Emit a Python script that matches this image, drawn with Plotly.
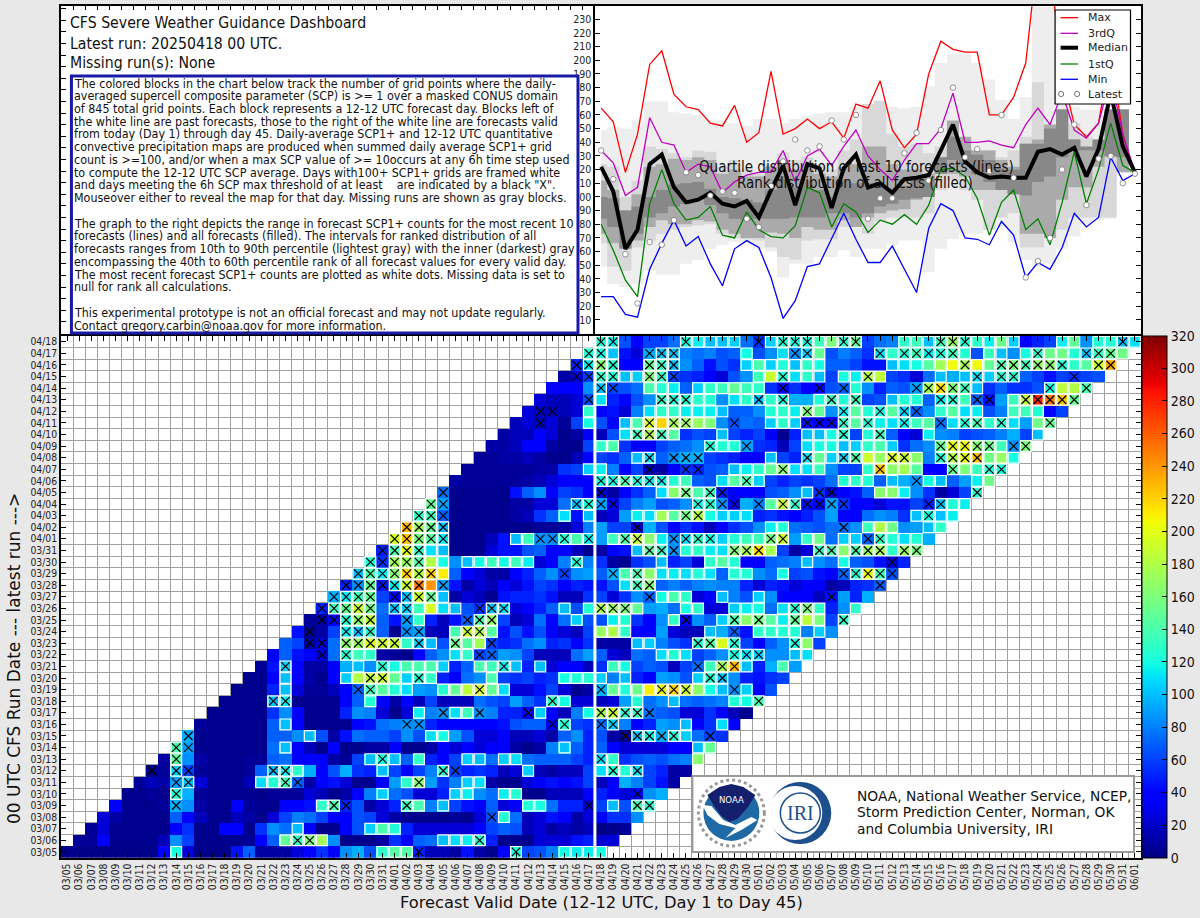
import numpy as np
import pandas as pd
import plotly.graph_objects as go

# valid dates (03/05 .. 06/01) and run dates (03/05 .. 04/18)
valid_dates = [d.strftime('%m/%d') for d in pd.date_range('2025-03-05', '2025-06-01')]
run_dates = valid_dates[:45]

# SCP1+ counts, one list per run, days 1-45 from the run date
run_0305 = [3,3,3,3,3,3,3,3,35,120,24,3,3,3,45,70,10,10,10,24,40,55,40,85,95,65,130,145,145,50,16,16,10,45,10,4,35,120,60,65,80,120,115,115,120]
run_0306 = [7,7,35,4,4,4,4,16,85,60,4,4,4,4,7,40,70,150,130,160,175,85,3,4,4,10,55,40,70,75,100,110,115,125,50,4,4,4,24,24,24,45,50,24,24]
run_0307 = [7,24,4,4,4,4,3,40,55,4,4,40,35,4,55,85,75,100,40,3,4,35,65,105,140,125,50,24,24,24,24,24,40,60,70,65,16,24,10,16,10,16,2,4,7]
run_0308 = [24,10,4,4,4,4,70,40,16,4,4,16,10,4,24,60,80,75,60,35,35,65,60,24,10,4,4,4,4,7,4,24,65,125,75,16,24,45,35,10,24,40,55,55,85]
run_0309 = [40,4,4,4,7,95,85,10,4,4,35,7,4,4,35,35,45,130,140,50,65,10,24,50,135,140,80,100,60,45,40,70,24,40,125,120,75,50,50,24,60,100,65,140,125]
run_0310 = [4,4,7,4,125,95,7,4,4,4,4,4,7,7,7,24,16,4,10,35,80,105,75,65,24,24,50,105,115,85,75,115,125,4,4,16,16,16,35,50,35,24,35,85,95]
run_0311 = [7,16,10,90,100,24,4,4,4,16,110,125,135,70,10,35,45,24,4,4,40,90,130,165,90,55,80,105,110,10,4,4,24,40,45,40,45,60,16,35,95,80,60,45,10]
run_0312 = [4,7,105,60,7,4,4,4,7,70,100,115,130,95,40,65,95,55,50,100,60,35,60,80,125,60,50,55,50,16,24,105,16,10,16,16,60,110,125,125,110,60,50,10,10]
run_0313 = [10,145,85,10,4,4,4,7,7,70,75,40,35,40,10,7,60,100,120,100,70,130,50,40,60,105,100,75,105,110,75,70,70,70,60,50,110,130,55,65,70,65,75,80,165]
run_0314 = [140,90,4,4,4,4,4,4,75,100,40,16,4,35,4,4,10,10,35,4,4,10,35,24,40,24,40,35,10,4,10,80,100,70,50,70,40,24,24,24,24,35,35,100,150]
run_0315 = [95,4,4,4,4,4,4,70,70,85,100,65,10,45,75,70,70,60,85,65,110,120,90,65,24,24,35,16,16,24,10,70,85,50,65,10,4,100,115,95,120,105,75,60,55]
run_0316 = [7,4,4,4,4,4,70,100,40,4,4,4,4,40,45,75,80,85,85,50,40,40,35,40,40,45,65,70,70,40,125,60,55,75,105,80,35,50,90,85,100,40,55,110,40]
run_0317 = [4,4,4,4,4,55,85,40,4,4,4,50,85,80,24,3,24,115,80,85,110,135,85,80,50,50,40,105,35,16,80,120,175,190,125,130,75,70,65,24,24,55,35,16,4]
run_0318 = [4,4,4,4,100,115,4,4,4,4,35,70,125,40,10,35,16,60,16,16,16,75,65,60,90,70,55,130,120,24,24,16,24,90,125,75,85,100,75,70,75,80,125,120,140]
run_0319 = [4,4,4,50,100,24,7,7,16,40,70,135,145,125,110,90,85,125,150,185,195,150,110,24,24,45,60,24,4,10,95,150,125,155,210,205,220,190,165,120,100,85,105,40,65]
run_0320 = [4,4,40,100,40,10,4,35,105,180,185,190,150,105,125,130,50,40,75,85,140,60,55,60,50,55,120,125,125,105,80,100,50,35,90,85,65,105,125,100,85,50,45,55,60]
run_0321 = [7,45,105,40,10,10,35,95,100,85,125,120,140,140,140,105,50,70,140,135,115,100,50,100,24,40,40,16,55,135,120,60,70,65,16,60,75,135,175,230,100,50,95,140,90]
run_0322 = [40,70,45,35,24,75,125,135,130,10,7,4,40,70,85,110,130,60,70,90,85,60,16,16,16,75,90,70,24,16,75,70,110,125,110,60,70,85,120,110,105,85,85,100,110]
run_0323 = [70,60,10,24,75,165,170,195,190,185,130,105,100,65,155,145,175,60,50,55,75,85,50,55,40,55,10,10,10,100,105,80,65,55,125,145,195,125,60,35,70,85,120,165,60]
run_0324 = [45,4,10,60,115,100,130,70,4,85,90,16,16,140,190,180,145,45,65,45,65,40,24,16,60,170,180,130,40,40,90,24,16,16,100,95,70,45,130,130,125,125,80,105,85]
run_0325 = [7,10,40,125,165,185,70,45,90,130,50,16,45,70,140,170,60,16,24,75,35,75,105,65,65,115,125,55,35,85,130,40,85,70,105,140,165,155,145,115,150,185,160,60,130]
run_0326 = [50,135,150,190,155,75,100,105,135,195,110,100,65,55,100,110,24,35,50,70,100,65,125,175,170,160,150,90,95,75,120,130,24,24,105,115,120,75,110,125,160,130,50,85,130]
run_0327 = [95,115,135,150,60,40,100,190,150,100,10,24,16,4,45,50,50,55,45,16,16,55,60,24,55,85,70,120,140,130,24,40,100,80,65,105,85,40,35,35,16,45,90,50,95]
run_0328 = [50,85,150,45,115,190,250,240,90,45,10,24,16,35,24,45,60,55,40,50,45,45,65,110,135,165,70,80,70,80,85,80,80,50,24,50,45,24,35,35,10,16,50,55,70]
run_0329 = [100,140,115,165,220,180,220,210,70,35,24,10,10,35,50,70,85,60,85,90,70,95,140,140,165,110,115,110,125,110,70,125,125,85,75,120,60,65,45,35,70,125,205,135,65]
run_0330 = [125,55,175,170,145,180,120,85,100,120,135,120,135,115,24,35,80,125,80,55,10,4,55,65,100,50,60,24,130,145,125,35,40,70,75,80,100,85,75,120,70,65,45,24,50]
run_0331 = [50,140,200,130,110,100,4,4,4,24,45,45,65,70,40,35,16,4,10,35,45,100,145,130,85,125,130,115,110,160,175,215,175,60,10,24,130,140,165,140,170,175,130,170,160]
run_0401 = [195,225,160,145,115,4,4,4,16,45,100,135,85,85,125,140,115,90,135,140,190,165,115,85,110,130,120,105,125,135,135,155,190,90,130,155,75,105,105,70,130,125,110,125,95]
run_0402 = [230,175,150,100,4,4,4,4,4,4,4,7,7,10,24,80,90,60,60,24,95,65,40,55,45,16,35,55,65,85,115,125,75,70,65,75,75,85,135,180,155,85,90,100,130]
run_0403 = [130,135,70,4,4,4,4,4,10,16,55,70,110,45,100,16,24,90,115,110,175,145,155,180,120,105,105,110,50,55,45,40,50,65,90,40,35,75,85,80,55,100,120,100,115]
run_0404 = [150,90,4,4,4,4,4,10,10,24,24,75,100,125,90,35,60,80,90,65,70,85,120,125,85,40,95,80,145,190,130,45,40,90,55,40,35,24,45,45,60,50,100,125,115]
run_0405 = [75,4,4,4,4,4,45,70,85,35,60,55,35,24,10,35,55,70,110,165,155,140,135,50,35,40,40,65,70,85,100,55,24,40,45,70,165,165,115,85,55,10,24,60,125]
run_0406 = [10,7,7,7,7,7,10,16,24,35,40,40,120,120,140,120,115,115,125,135,70,65,110,145,140,105,60,50,60,55,60,75,125,130,125,70,100,95,85,120,100,70,90,115,155]
run_0407 = [7,7,7,7,7,7,10,10,55,60,105,115,80,35,60,16,10,35,55,50,65,70,100,115,130,150,165,110,110,135,85,60,60,130,225,165,175,145,35,35,150,160,135,125,120]
run_0408 = [7,7,10,10,16,10,4,4,16,40,60,55,70,100,110,70,85,95,95,60,55,50,35,35,100,60,50,110,150,105,105,140,190,170,195,190,165,80,125,180,200,225,155,170,120]
run_0409 = [10,10,16,35,40,10,4,4,60,130,140,55,35,40,60,70,75,85,125,125,125,90,55,50,16,60,110,120,120,100,105,130,140,105,55,75,85,150,200,205,165,150,135,85,160]
run_0410 = [10,16,16,35,24,4,10,35,16,65,110,135,180,135,145,55,65,60,100,60,50,60,35,4,50,100,100,120,125,60,125,135,70,35,24,115,85,80,60,65,70,80,95,60,100]
run_0411 = [16,24,16,24,7,60,120,65,40,100,140,195,220,175,170,170,160,85,65,75,70,105,130,105,45,35,40,130,145,125,115,110,115,135,145,75,110,125,135,130,125,110,90,155,150]
run_0412 = [24,16,16,16,24,130,40,45,24,80,110,130,130,115,115,115,100,70,70,85,125,130,115,160,150,85,115,145,125,120,145,105,70,85,130,145,110,115,65,80,135,135,125,35,60]
run_0413 = [24,16,16,24,65,110,50,35,65,85,130,125,125,130,125,85,110,130,100,130,120,95,95,125,130,125,135,60,65,100,125,125,70,115,125,135,70,45,90,135,190,280,250,225,150]
run_0414 = [35,35,35,85,100,60,65,75,140,125,115,70,105,130,135,150,135,130,55,35,55,40,35,65,70,125,85,50,70,65,90,175,215,160,135,100,55,70,55,55,65,120,185,180,140]
run_0415 = [10,24,60,130,125,100,105,160,130,60,55,50,40,24,65,85,135,190,125,110,130,100,60,120,115,180,185,60,55,24,75,100,95,100,110,105,125,125,70,60,45,60,55,60,65]
run_0416 = [50,115,165,125,35,35,150,130,100,85,70,45,65,55,105,140,105,125,100,130,120,70,70,60,45,45,100,110,120,145,175,205,175,205,150,140,160,135,170,165,125,130,145,190,235]
run_0417 = [125,120,100,45,24,95,100,100,80,75,80,65,70,120,65,85,110,85,105,150,65,80,70,55,110,130,125,135,115,125,135,125,65,135,100,85,120,130,155,155,125,100,135,150,155]
run_0418 = [125,115,65,35,60,60,75,120,115,100,100,105,75,55,105,125,120,120,135,160,130,150,60,75,80,130,135,100,135,170,125,130,115,155,105,40,50,60,115,150,85,125,125,100,110]

runs = [run_0305, run_0306, run_0307, run_0308, run_0309, run_0310, run_0311, run_0312, run_0313,
        run_0314, run_0315, run_0316, run_0317, run_0318, run_0319, run_0320, run_0321, run_0322,
        run_0323, run_0324, run_0325, run_0326, run_0327, run_0328, run_0329, run_0330, run_0331,
        run_0401, run_0402, run_0403, run_0404, run_0405, run_0406, run_0407, run_0408, run_0409,
        run_0410, run_0411, run_0412, run_0413, run_0414, run_0415, run_0416, run_0417, run_0418]

# valid-day index of the black X marks, one list per run
x_days = [
    [29,37], [19,20,34], [], [35], [9,22,23,28,43,47,48], [9,47], [9,10,18,19,29],
    [7,9,10,17,18,31,32,45,47], [9,26,44], [9,10], [10,46,47,48,49,50,53], [28,29,40,41,44,45],
    [31,34,38,44,45,46,47,48], [17,18,40,57], [24,25,34,44,49,50,51,55], [25,26,29,53,54],
    [18,26,36,52,54,55], [21,23,34,35,55,56,57], [20,21,23,24,25,26,27,29,32,35,52,53,55,60],
    [20,23,24,25,28,29,33,34,55], [21,22,23,24,25,28,33,34,35,51,55,57,60,64],
    [21,22,23,24,25,27,28,34,35,36,44,45,46,60,61], [22,23,24,25,27,28,29,30,48,63],
    [23,24,25,26,27,28,29,31,47,48,67], [24,25,26,27,28,29,30,41,45,47,64,65,66,67,68],
    [25,26,27,28,29,42,68], [26,27,28,29,48,49,50,55,56,57,62,63,65,66,67,69,70],
    [27,28,29,30,31,39,40,41,43,46,47,50,51,52,53,58,59,66,67], [28,29,30,31,47,64],
    [29,30,31,51,52,71], [30,31,42,43,44,45,52,53,54,55,57,59,60,61,62,63,64,71,72],
    [31,44,51,53,54,62,63,75], [44,45,46,47,48,49,56,70], [48,51,52,59,67,73,76,77],
    [48,50,51,52,61,64,65,68,69,72,73,74,75], [53,56,72,73,74,75,76,78,79], [47,48,49,64,67],
    [39,48,50,51,55,61,62,63,64,66,69,72,74,75,77,81], [39,40,61,64,67,69,70],
    [43,49,50,51,57,59,63,65,72,73,75,76,79,80,81,82,83], [44,45,59,62,64,70,71,72,73,74,81,84],
    [42,43,44,45,48,49,50,59,66,75,77,78,83], [42,43,44,45,48,49,50,74,77,78,79,80,81,82,85,86],
    [43,44,48,49,50,60,61,67,69,70,71,72,73,80,84,85,86], [44,45,51,57,59,60,61,64,65,72,73,74,87],
]

# last 10 forecasts, quartile lines
fcst_day = list(range(45))
line_max = [165,155,118,146,197,207,175,166,164,154,152,167,140,147,192,146,150,157,150,155,143,168,165,185,149,136,146,190,214,208,206,206,160,160,173,198,280,270,190,153,144,154,205,146,117]
line_q3 = [134,125,101,107,158,140,138,118,124,122,103,111,116,118,118,134,111,130,135,123,137,149,130,120,112,127,139,139,150,176,140,140,141,138,136,153,165,153,176,149,143,154,188,146,118]
line_median = [122,104,62,76,124,131,107,96,98,103,95,93,97,85,105,123,94,124,121,92,121,131,107,110,103,113,114,116,134,153,126,118,114,115,114,114,133,135,131,136,115,135,176,137,118]
line_q1 = [80,61,39,27,95,120,95,83,85,93,72,70,89,76,71,70,79,107,103,78,95,89,74,83,80,87,80,94,120,121,115,99,72,96,105,76,84,65,96,133,95,120,154,123,118]
line_min = [27,27,14,12,47,66,83,64,71,51,35,62,68,63,41,11,24,49,51,69,88,69,52,52,64,47,30,77,95,90,70,69,65,82,72,41,52,47,63,88,78,85,129,112,117]
latest = [134,113,58,22,67,65,83,118,116,101,104,103,84,78,108,126,142,134,137,156,142,160,84,99,99,132,147,112,149,180,129,135,119,160,114,41,53,70,120,153,94,128,130,110,117]

# ranked distribution of all forecasts, filled bands
p10 = [49,36,34,36,46,43,43,51,54,62,65,67,67,62,60,41,51,51,56,56,61,56,62,62,65,68,68,45,62,69,73,73,76,78,67,54,49,51,62,71,80,83,84,122,121]
p90 = [149,151,150,156,170,170,162,161,160,156,156,154,152,157,157,154,157,159,161,162,162,166,166,171,166,165,166,181,198,204,205,198,186,171,157,173,239,239,168,166,164,164,164,164,122]
p20 = [66,49,46,63,68,73,76,78,79,80,73,70,69,68,63,56,54,68,69,69,78,78,73,82,85,85,85,88,105,112,105,98,76,85,88,63,63,73,76,85,85,85,85,118,118]
p80 = [124,122,100,112,137,135,132,129,134,133,122,127,120,117,124,132,127,129,122,120,134,142,168,170,146,137,139,132,137,149,137,134,134,129,134,144,184,149,161,154,144,142,164,164,121]
p30 = [73,66,63,68,78,83,80,80,83,82,76,73,70,70,74,73,70,78,76,76,83,78,85,88,90,91,98,100,117,117,115,105,105,105,102,73,73,70,98,107,107,122,129,118,118]
p70 = [112,105,90,102,122,124,128,127,129,127,117,120,115,115,122,127,120,124,117,115,122,124,137,137,124,120,120,117,129,156,144,134,134,127,122,139,142,153,164,142,134,137,164,164,120]
p40 = [84,78,62,73,85,88,93,95,98,94,88,84,83,84,84,84,85,85,85,88,88,85,88,93,95,98,99,100,117,127,124,117,111,105,102,101,111,115,129,134,134,134,130,129,120]
p60 = [100,99,90,93,100,105,109,110,111,106,100,99,98,96,105,115,107,112,105,100,112,110,110,107,106,107,113,115,129,144,134,131,127,121,120,139,139,150,164,142,137,142,164,164,120]

bands = [(p10, p90, '#eeeeee'), (p20, p80, '#d8d8d8'), (p30, p70, '#aaaaaa'), (p40, p60, '#888888')]

legend_items = [('Max', 'red', 1.3), ('3rdQ', '#c000c0', 1.3), ('Median', 'black', 4), ('1stQ', 'green', 1.3), ('Min', 'blue', 1.3)]

text_lines = [
    'The colored blocks in the chart below track the number of grid points where the daily-',
    'averaged supercell composite parameter (SCP) is >= 1 over a masked CONUS domain',
    'of 845 total grid points. Each block represents a 12-12 UTC forecast day. Blocks left of',
    'the white line are past forecasts, those to the right of the white line are forecasts valid',
    'from today (Day 1) through day 45. Daily-average SCP1+ and 12-12 UTC quantitative',
    'convective precipitation maps are produced when summed daily average SCP1+ grid',
    'count is >=100, and/or when a max SCP value of >= 10occurs at any 6h time step used',
    'to compute the 12-12 UTC SCP average. Days with100+ SCP1+ grids are framed white',
    'and days meeting the 6h SCP max threshold of at least\u00a0\u00a0\u00a0\u00a0are indicated by a black "X".',
    'Mouseover either to reveal the map for that day. Missing runs are shown as gray blocks.',
    '',
    'The graph to the right depicts the range in forecast SCP1+ counts for the most recent 10',
    'forecasts (lines) and all forecasts (filled). The intervals for ranked distribution of all',
    'forecasts ranges from 10th to 90th percentile (lightest gray) with the inner (darkest) gray',
    'encompassing the 40th to 60th percentile rank of all forecast values for every valid day.',
    'The most recent forecast SCP1+ counts are plotted as white dots. Missing data is set to',
    'null for rank all calculations.',
    '',
    'This experimental prototype is not an official forecast and may not update regularly.',
    'Contact gregory.carbin@noaa.gov for more information.',
]

W, H = 1200, 918
PLOT_W = 1142  # the colorbar sits in the right margin so it cannot push the axes
FONT = 'DejaVu Sans'
NARROW = 'DejaVu Sans Condensed, DejaVu Sans'


def px(x):
    return x / PLOT_W


def py(y):
    return 1 - y / H


# matplotlib jet
stops = sorted(set([0, .11, .125, .34, .35, .375, .64, .65, .66, .89, .91, 1]))
red = np.interp(stops, [0, .35, .66, .89, 1], [0, 0, 1, 1, .5])
green = np.interp(stops, [0, .125, .375, .64, .91, 1], [0, 0, 1, 1, 0, 0])
blue = np.interp(stops, [0, .11, .34, .65, 1], [.5, 1, 1, 0, 0])
jet = [[s, f'rgb({r*255:.0f},{g*255:.0f},{b*255:.0f})'] for s, r, g, b in zip(stops, red, green, blue)]

z = np.full((45, 89), np.nan)
for r, vals in enumerate(runs):
    z[r, r:r + 45] = vals

frame_x, frame_y = [], []
for r, vals in enumerate(runs):
    for i, v in enumerate(vals):
        if v >= 100:
            frame_x.append(r + i)
            frame_y.append(r)

mark_x, mark_y = [], []
for r, days in enumerate(x_days):
    for d in days:
        mark_x.append(d)
        mark_y.append(r)

fig = go.Figure()

fig.add_trace(go.Heatmap(
    z=z, x=list(range(89)), y=list(range(45)), zmin=0, zmax=320, colorscale=jet,
    hoverongaps=False,
    colorbar=dict(
        x=1.0004, xanchor='left', y=py(857.7), yanchor='bottom', len=(857.7 - 336) / H,
        lenmode='fraction', thickness=25, thicknessmode='pixels', xpad=0, ypad=0,
        tickvals=list(range(0, 321, 20)), ticks='inside', ticklen=5, tickcolor='black',
        tickprefix='\u00a0', tickfont=dict(family=NARROW, size=14, color='#111111'),
        outlinecolor='black', outlinewidth=1,
    ),
))
fig.add_trace(go.Scatter(x=frame_x, y=frame_y, mode='markers', showlegend=False, hoverinfo='skip',
                         marker=dict(symbol='square-open', size=10.8, color='white', line=dict(color='white', width=1.2))))
fig.add_trace(go.Scatter(x=mark_x, y=mark_y, mode='markers', showlegend=False, hoverinfo='skip',
                         marker=dict(symbol='x-thin', size=8.5, color='black', line=dict(color='black', width=1.2))))

for low, high, colour in bands:
    fig.add_trace(go.Scatter(x=fcst_day, y=low, xaxis='x2', yaxis='y2', mode='lines', showlegend=False,
                             hoverinfo='skip', line=dict(width=0, shape='hvh', color=colour)))
    fig.add_trace(go.Scatter(x=fcst_day, y=high, xaxis='x2', yaxis='y2', mode='lines', showlegend=False,
                             hoverinfo='skip', fill='tonexty', fillcolor=colour,
                             line=dict(width=0, shape='hvh', color=colour)))

line_series = [line_max, line_q3, line_median, line_q1, line_min]
for (name, colour, width), vals in zip(legend_items, line_series):
    fig.add_trace(go.Scatter(x=fcst_day, y=vals, xaxis='x2', yaxis='y2', mode='lines', name=name, showlegend=False,
                             line=dict(color=colour, width=width)))
fig.add_trace(go.Scatter(x=fcst_day, y=latest, xaxis='x2', yaxis='y2', mode='markers', name='Latest', showlegend=False,
                         marker=dict(symbol='circle', size=5.5, color='white', line=dict(color='#777777', width=0.8))))

# empty trace so the text panel keeps its ticked frame
fig.add_trace(go.Scatter(x=[], y=[], xaxis='x3', yaxis='y3', showlegend=False))

annotations = []


def note(x, y, text, size, xanchor='left', color='#111111', angle=0, family=FONT):
    annotations.append(dict(xref='paper', yref='paper', x=px(x), y=py(y), text=text, showarrow=False,
                            xanchor=xanchor, yanchor='middle', textangle=angle, borderpad=0,
                            font=dict(family=family, size=size, color=color)))


note(69, 23, 'CFS Severe Weather Guidance Dashboard', 15.7, family=NARROW)
note(69, 43, 'Latest run: 20250418 00 UTC.', 15.7, family=NARROW)
note(69, 62, 'Missing run(s): None', 15.7, family=NARROW)
for i, line in enumerate(text_lines):
    if line:
        note(73.5, 83 + 12.74 * i, line, 12.4, family=NARROW)

note(857, 167, 'Quartile distribution of last 10 forecasts (lines)', 15, 'center', family=NARROW)
note(856, 183, 'Rank distribution of all fcsts (filled)', 15, 'center', family=NARROW)
note(602, 902, 'Forecast Valid Date (12-12 UTC, Day 1 to Day 45)', 16.3, 'center')
note(14, 658, '00 UTC CFS Run Date --- latest run --->', 17, 'center', angle=-90)
note(857, 796, 'NOAA, National Weather Service, NCEP,', 13.8)
note(857, 812, 'Storm Prediction Center, Norman, OK', 13.8)
note(857, 829, 'and Columbia University, IRI', 13.8)
note(732, 799.5, 'NOAA', 8.5, 'center', color='white')
note(801, 813, 'IRI', 20, 'center', color='#1c4f8c', family='Liberation Serif')
for name, y in zip(['Max', '3rdQ', 'Median', '1stQ', 'Min', 'Latest'], [17.7, 33.3, 47.7, 64, 79.3, 94]):
    note(1088, y, name, 11, color='#222222')


def circle(cx, cy, r, fill='rgba(0,0,0,0)', line='rgba(0,0,0,0)', width=0, dash='solid'):
    return dict(type='circle', xref='paper', yref='paper', x0=px(cx - r), x1=px(cx + r), y0=py(cy + r), y1=py(cy - r),
                fillcolor=fill, line=dict(color=line, width=width, dash=dash), layer='above')


def path(points, fill):
    d = 'M ' + ' L '.join(f'{px(a):.5f},{py(b):.5f}' for a, b in points) + ' Z'
    return dict(type='path', xref='paper', yref='paper', path=d, fillcolor=fill, line=dict(width=0), layer='above')


shapes = [
    # divider between past and forecast days
    dict(type='line', xref='x', yref='y domain', x0=43.5, x1=43.5, y0=0, y1=1, line=dict(color='white', width=3), layer='above'),
    # explanatory box
    dict(type='rect', xref='paper', yref='paper', x0=px(71.5), x1=px(578.5), y0=py(333), y1=py(76),
         fillcolor='white', line=dict(color='#1a1aa8', width=3), layer='above'),
    # legend box
    dict(type='rect', xref='paper', yref='paper', x0=px(1056), x1=px(1131.5), y0=py(104), y1=py(10),
         fillcolor='white', line=dict(color='black', width=1.2), layer='above'),
    # logo box
    dict(type='rect', xref='paper', yref='paper', x0=px(693), x1=px(1135), y0=py(852), y1=py(776),
         fillcolor='white', line=dict(color='#999999', width=2), layer='above'),
    circle(732, 813, 33, line='#999999', width=3, dash='dot'),
    circle(732, 813, 28, fill='#1f6aa5'),
    path([(708, 795), (720, 787), (732, 784), (744, 787), (756, 795), (748, 808), (738, 819), (730, 822), (722, 816), (714, 805)], '#14206e'),
    path([(703, 805), (712, 806), (724, 820), (736, 825), (752, 817), (758, 820), (742, 830), (726, 838), (736, 828), (720, 824), (708, 815)], 'white'),
    circle(801, 813, 31, fill='#1c4f8c'),
    circle(796, 813, 27, fill='white'),
    circle(801, 813, 20, fill='white', line='#1c4f8c', width=1.5),
]
for (name, colour, width), y in zip(legend_items, [17.7, 33.3, 47.7, 64, 79.3]):
    shapes.append(dict(type='line', xref='paper', yref='paper', x0=px(1061.5), x1=px(1079), y0=py(y), y1=py(y),
                       line=dict(color=colour, width=width), layer='above'))
for cx in [1062, 1078]:
    shapes.append(circle(cx, 94, 2.6, fill='white', line='#555555', width=0.8))

cols = list(range(89))
rows = list(range(45))
frame = dict(showline=True, linecolor='black', linewidth=1.5, mirror='ticks', ticks='inside', ticklen=5,
             tickcolor='black', zeroline=False)

fig.update_layout(
    width=W, height=H, autosize=False, margin=dict(l=0, r=W - PLOT_W, t=0, b=0),
    paper_bgcolor='#e8e8e8', plot_bgcolor='white', font=dict(family=FONT), showlegend=False,
    xaxis=dict(domain=[px(61), 1], range=[-0.5, 88.5], tickmode='array', tickvals=cols, ticktext=valid_dates,
               tickangle=-90, tickfont=dict(family=NARROW, size=10.3, color='#222222'), showgrid=False, **frame,
               minor=dict(tickvals=[c + 0.5 for c in cols[:-1]], showgrid=True, gridcolor='#a0a0a0', gridwidth=1, ticks='')),
    yaxis=dict(domain=[py(857.7), py(336)], range=[-0.5, 44.5], tickmode='array', tickvals=rows, ticktext=run_dates,
               tickfont=dict(family=NARROW, size=10.3, color='#222222'), showgrid=False, **frame,
               minor=dict(tickvals=[r + 0.5 for r in rows[:-1]], showgrid=True, gridcolor='#a0a0a0', gridwidth=1, ticks='')),
    xaxis2=dict(domain=[px(595.6), 1], range=[-0.5, 44.5], anchor='y2', showticklabels=False, showgrid=False,
                showline=True, linecolor='black', linewidth=1.5, mirror=True, ticks='', zeroline=False),
    yaxis2=dict(domain=[py(333.5), py(5.7)], range=[0, 240], anchor='x2', tickmode='array', tickvals=list(range(10, 240, 10)),
                tickfont=dict(family=NARROW, size=10.5, color='#222222'), showgrid=False, **frame),
    xaxis3=dict(domain=[px(61), px(595.6)], range=[0, 534.6], anchor='y3', side='top', dtick=12.15, showticklabels=False,
                showgrid=False, showline=True, linecolor='black', linewidth=1.5, ticks='inside', ticklen=5, tickcolor='black',
                zeroline=False),
    yaxis3=dict(domain=[py(333.5), py(5.7)], range=[0, 327.8], anchor='x3', dtick=11.6, showticklabels=False, showgrid=False,
                showline=True, linecolor='black', linewidth=1.5, ticks='inside', ticklen=5, tickcolor='black', zeroline=False),
    shapes=shapes, annotations=annotations,
)

fig.write_html("out.html", config={'displayModeBar': False},
               post_script="document.body.style.margin='0';document.body.style.overflow='hidden';")
